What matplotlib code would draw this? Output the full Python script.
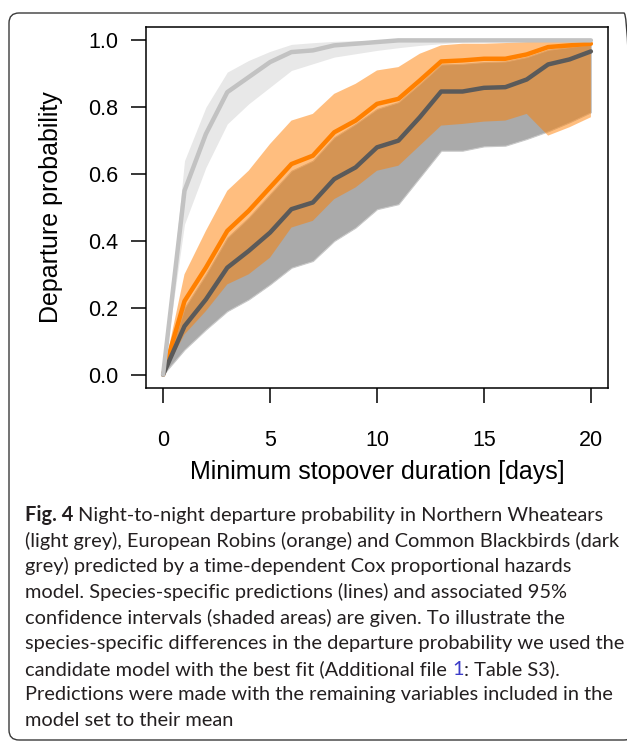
import numpy as np
import matplotlib.pyplot as plt
from matplotlib.patches import FancyBboxPatch
from matplotlib.transforms import IdentityTransform

# one value per day (0..20)
days = np.arange(21)

wheat_mean = [0, 0.55, 0.72, 0.845, 0.89, 0.935, 0.965, 0.97, 0.985, 0.99, 0.995,
              1, 1, 1, 1, 1, 1, 1, 1, 1, 1]
wheat_upper = [0, 0.64, 0.80, 0.905, 0.94, 0.967, 0.988, 0.993, 0.997, 0.999, 1,
               1, 1, 1, 1, 1, 1, 1, 1, 1, 1]
wheat_lower = [0, 0.45, 0.62, 0.75, 0.81, 0.86, 0.91, 0.93, 0.95, 0.96, 0.97,
               0.978, 0.985, 0.99, 0.995, 0.997, 0.998, 0.999, 1, 1, 1]

robin_mean = [0, 0.22, 0.32, 0.43, 0.49, 0.56, 0.63, 0.655, 0.725, 0.76, 0.81,
              0.825, 0.88, 0.937, 0.94, 0.945, 0.945, 0.958, 0.98, 0.985, 0.99]
robin_upper = [0, 0.30, 0.43, 0.55, 0.61, 0.69, 0.76, 0.78, 0.84, 0.87, 0.91,
               0.92, 0.96, 0.985, 0.99, 0.99, 0.992, 0.995, 0.998, 0.999, 1.0]
robin_lower = [0, 0.12, 0.19, 0.27, 0.30, 0.35, 0.44, 0.46, 0.525, 0.56, 0.61,
               0.625, 0.685, 0.745, 0.75, 0.757, 0.76, 0.78, 0.715, 0.74, 0.77]

black_mean = [0, 0.145, 0.225, 0.32, 0.37, 0.425, 0.495, 0.515, 0.585, 0.62, 0.68,
              0.70, 0.77, 0.847, 0.847, 0.858, 0.86, 0.883, 0.928, 0.943, 0.967]
black_upper = [0, 0.20, 0.30, 0.41, 0.47, 0.54, 0.61, 0.64, 0.71, 0.75, 0.795,
               0.815, 0.87, 0.928, 0.93, 0.935, 0.937, 0.95, 0.972, 0.98, 0.988]
black_lower = [0, 0.075, 0.135, 0.19, 0.225, 0.27, 0.32, 0.34, 0.40, 0.44, 0.495,
               0.51, 0.59, 0.67, 0.67, 0.683, 0.685, 0.705, 0.728, 0.755, 0.785]

x_ticks = [0, 5, 10, 15, 20]
y_ticks = [0.0, 0.2, 0.4, 0.6, 0.8, 1.0]

caption_head = "Fig. 4"
caption_lines = [
    "Night-to-night departure probability in Northern Wheatears",
    "(light grey), European Robins (orange) and Common Blackbirds (dark",
    "grey) predicted by a time-dependent Cox proportional hazards",
    "model. Species-specific predictions (lines) and associated 95%",
    "confidence intervals (shaded areas) are given. To illustrate the",
    "species-specific differences in the departure probability we used the",
    "candidate model with the best fit (Additional file ",
    "Predictions were made with the remaining variables included in the",
    "model set to their mean",
]
link_text = "1"
link_tail = ": Table S3)."

W, H = 627, 745
fig = plt.figure(figsize=(W / 100, H / 100), dpi=100)
ax = fig.add_axes([146 / W, 1 - 388 / H, 462 / W, 361 / H])

# bands
ax.fill_between(days, wheat_lower, wheat_upper, color="#e8e8e8", lw=0)
ax.fill_between(days, black_lower, black_upper, facecolor="#aaaaaa",
                edgecolor="#c8c8c8", lw=0.8)
ax.fill_between(days, robin_lower, robin_upper, facecolor="#ff7f00",
                alpha=0.5, lw=0)

# lines
ax.plot(days, robin_mean, color="#ff8000", lw=3.2,
        solid_capstyle="round", solid_joinstyle="round")
ax.plot(days, black_mean, color="#5a5a5a", lw=3.2,
        solid_capstyle="round", solid_joinstyle="round")
ax.plot(days, wheat_mean, color="#c2c2c2", lw=3.2,
        solid_capstyle="round", solid_joinstyle="round")

ax.set_xlim(-0.8, 20.8)
ax.set_ylim(-0.04, 1.04)
ax.set_xticks(x_ticks)
ax.set_xticklabels([str(t) for t in x_ticks])
ax.set_yticks(y_ticks)
ax.set_yticklabels(["%.1f" % t for t in y_ticks])

axfont = "Liberation Sans"
ax.tick_params(direction="out", length=11, width=1.1, labelsize=15.5, colors="black")
ax.tick_params(axis="x", pad=19)
ax.tick_params(axis="y", pad=9)
for lab in ax.get_xticklabels() + ax.get_yticklabels():
    lab.set_family(axfont)
for sp in ax.spines.values():
    sp.set_linewidth(1.1)

ax.set_xlabel("Minimum stopover duration [days]", fontsize=18, family=axfont,
              labelpad=7)
ax.set_ylabel("Departure probability", fontsize=18, family=axfont, labelpad=18)

# outer rounded frame (pixel coords)
frame = FancyBboxPatch((9, 5), 625, 727, boxstyle="round,pad=0,rounding_size=10",
                       transform=IdentityTransform(), facecolor="none",
                       edgecolor="#3a3a3a", lw=1.0)
fig.patches.append(frame)

# caption
capfont = "Lato"
capcol = "#231f20"
fig.canvas.draw()
r = fig.canvas.get_renderer()
probe = fig.text(0, 0, caption_lines[1], family=capfont, fontsize=10)
w10 = probe.get_window_extent(r).width
probe.remove()
fs = 10 * 598 / w10

x0 = 25 / W
y_first = 514 + 0.36 * fs * 100 / 72   # baseline of first line, px from top
step = 25.6


def ypos(i):
    return 1 - (y_first + i * step) / H


t = fig.text(x0, ypos(0), caption_head + " ", family=capfont, fontsize=fs,
             weight="bold", color=capcol, va="baseline")
wb = t.get_window_extent(r).width
fig.text(x0 + wb / W, ypos(0), caption_lines[0], family=capfont, fontsize=fs,
         color=capcol, va="baseline")
for i in range(1, len(caption_lines)):
    t = fig.text(x0, ypos(i), caption_lines[i], family=capfont, fontsize=fs,
                 color=capcol, va="baseline")
    if i == 6:
        w1 = t.get_window_extent(r).width
        t2 = fig.text(x0 + w1 / W, ypos(i), link_text, family=capfont,
                      fontsize=fs, color="#3c3cc8", va="baseline")
        w2 = t2.get_window_extent(r).width
        fig.text(x0 + (w1 + w2) / W, ypos(i), link_tail, family=capfont,
                 fontsize=fs, color=capcol, va="baseline")

fig.savefig("out.png", dpi=100)
